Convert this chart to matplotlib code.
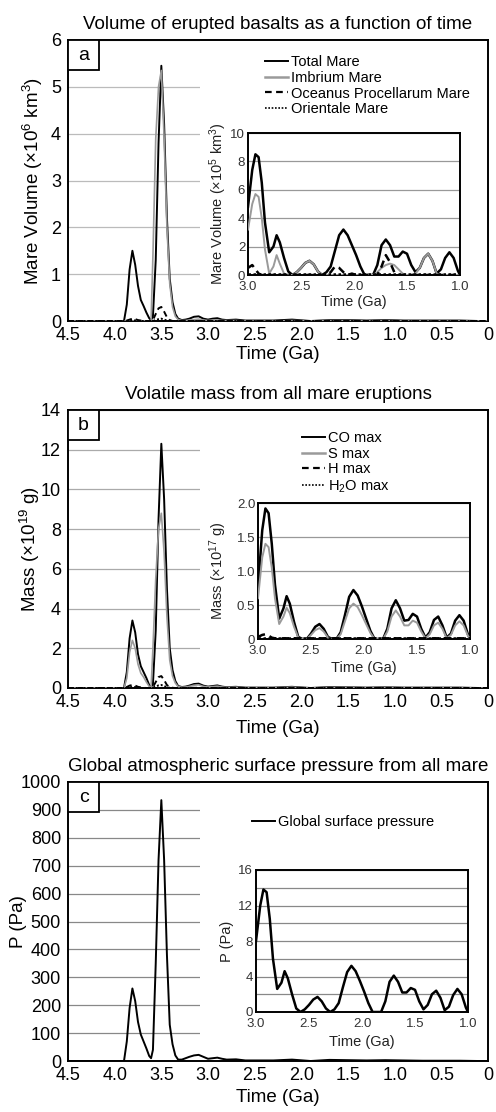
import matplotlib
matplotlib.use("Agg")
import matplotlib.pyplot as plt
from matplotlib.patches import Rectangle
from matplotlib.lines import Line2D
from matplotlib.ticker import MultipleLocator

plt.rcParams["font.family"] = ["Liberation Sans", "DejaVu Sans"]
plt.rcParams["mathtext.fontset"] = "custom"
plt.rcParams["mathtext.rm"] = "Liberation Sans"
plt.rcParams["mathtext.it"] = "Liberation Sans"

# ---- time axes ----
t_main = [4.5, 4.2, 3.9, 3.87, 3.84, 3.81, 3.78, 3.75, 3.72, 3.69, 3.66, 3.63, 3.61, 3.59, 3.56,
          3.53, 3.5, 3.47, 3.44, 3.41, 3.38, 3.35, 3.32, 3.28, 3.24, 3.2, 3.15, 3.1, 3.05, 3.0,
          2.95, 2.9, 2.85, 2.8, 2.7, 2.6, 2.5, 2.3, 2.1, 1.9, 1.7, 1.5, 1.3, 1.1, 0.9, 0.7, 0.5,
          0.3, 0.1, 0.0]
t_inset = [3.0, 2.96, 2.93, 2.9, 2.87, 2.84, 2.8, 2.76, 2.73, 2.7, 2.66, 2.62, 2.58, 2.54, 2.5,
           2.46, 2.42, 2.38, 2.34, 2.3, 2.26, 2.22, 2.18, 2.14, 2.1, 2.06, 2.02, 1.98, 1.94, 1.9,
           1.86, 1.82, 1.78, 1.74, 1.7, 1.66, 1.62, 1.58, 1.54, 1.5, 1.46, 1.42, 1.38, 1.34, 1.3,
           1.26, 1.22, 1.18, 1.14, 1.1, 1.06, 1.02, 1.0]

# ---- panel a: mare volume (x10^6 km3) ----
total_main = [0, 0, 0, 0.35, 1.1, 1.5, 1.2, 0.75, 0.45, 0.32, 0.18, 0.06, 0.02, 0.1, 1.3,
              3.8, 5.45, 4.2, 2.2, 0.9, 0.4, 0.15, 0.05, 0.02, 0.03, 0.05, 0.09, 0.1, 0.05, 0.03,
              0.05, 0.06, 0.03, 0.02, 0.03, 0.01, 0.01, 0.01, 0.03, 0, 0.02, 0.02, 0.01, 0.02, 0.01,
              0.01, 0.01, 0.01, 0, 0]
imbrium_main = [0, 0, 0, 0, 0, 0, 0, 0, 0, 0, 0, 0, 0, 1.4, 3.9,
                5.0, 5.35, 3.9, 2.0, 0.8, 0.3, 0.1, 0.03, 0.01, 0.01, 0.02, 0.03, 0.04, 0.02, 0.01,
                0.02, 0.02, 0.01, 0.01, 0.01, 0, 0, 0, 0.01, 0, 0.01, 0.01, 0, 0.01, 0,
                0, 0, 0, 0, 0]
oceanus_main = [0, 0, 0, 0.01, 0.03, 0.05, 0.04, 0.02, 0.01, 0, 0, 0, 0, 0.02, 0.15,
                0.27, 0.3, 0.2, 0.08, 0.02, 0, 0, 0, 0, 0, 0, 0, 0, 0, 0,
                0, 0, 0, 0, 0, 0, 0, 0, 0, 0, 0, 0, 0, 0, 0, 0, 0, 0, 0, 0]
orientale_main = [0, 0, 0, 0, 0.01, 0.02, 0.01, 0, 0, 0, 0, 0, 0, 0, 0.02,
                  0.04, 0.05, 0.03, 0.01, 0, 0, 0, 0, 0, 0, 0, 0, 0, 0, 0,
                  0, 0, 0, 0, 0, 0, 0, 0, 0, 0, 0, 0, 0, 0, 0, 0, 0, 0, 0, 0]

# inset a (x10^5 km3)
total_inset = [4.8, 7.4, 8.5, 8.3, 6.5, 3.7, 1.6, 2.0, 2.8, 2.3, 1.2, 0.25, 0, 0.2, 0.5,
               0.85, 1.0, 0.75, 0.25, 0, 0.2, 0.6, 1.7, 2.8, 3.2, 2.8, 2.1, 1.4, 0.6, 0,
               0, 0, 0.7, 2.1, 2.5, 2.1, 1.3, 1.3, 1.65, 1.5, 0.7, 0.2, 0.5, 1.2, 1.5,
               1.0, 0.1, 0.4, 1.2, 1.6, 1.2, 0.3, 0]
imbrium_inset = [3.2, 5.0, 5.7, 5.5, 4.0, 1.8, 0.1, 0.6, 1.4, 0.8, 0.1, 0, 0, 0.2, 0.5,
                 0.85, 1.0, 0.75, 0.25, 0, 0, 0, 0, 0, 0, 0, 0, 0, 0, 0,
                 0, 0, 0.2, 0.5, 0.7, 0.8, 0.7, 0.4, 0.1, 0, 0, 0.1, 0.5, 1.2, 1.5,
                 1.0, 0.1, 0, 0, 0, 0, 0, 0]
oceanus_inset = [0.5, 0.7, 0.4, 0.1, 0, 0, 0, 0, 0, 0, 0, 0, 0, 0, 0,
                 0, 0, 0, 0, 0, 0, 0.2, 0.6, 0.5, 0.2, 0, 0.1, 0, 0, 0,
                 0, 0, 0, 0.6, 1.4, 0.9, 0.2, 0, 0, 0, 0, 0, 0, 0, 0,
                 0, 0, 0, 0, 0, 0, 0, 0]
orientale_inset = [0.05] * 53

# ---- panel b: volatile mass (x10^19 g, inset x10^17 g) ----
co_main = [0, 0, 0, 0.8, 2.5, 3.4, 2.8, 1.7, 1.1, 0.8, 0.5, 0.15, 0.05, 0.2, 2.9,
           8.5, 12.3, 9.5, 5.0, 2.0, 0.9, 0.35, 0.1, 0.05, 0.07, 0.12, 0.2, 0.22, 0.12, 0.07,
           0.1, 0.13, 0.07, 0.04, 0.06, 0.02, 0.02, 0.02, 0.06, 0, 0.05, 0.04, 0.02, 0.04, 0.02,
           0.02, 0.02, 0.02, 0, 0]
s_main = [0, 0, 0, 0.5, 1.8, 2.4, 2.0, 1.2, 0.75, 0.55, 0.3, 0.08, 0.02, 2.0, 5.5,
          8.0, 8.8, 6.8, 3.6, 1.4, 0.6, 0.25, 0.07, 0.04, 0.05, 0.08, 0.14, 0.16, 0.08, 0.05,
          0.07, 0.09, 0.05, 0.03, 0.04, 0.01, 0.01, 0.01, 0.04, 0, 0.03, 0.03, 0.01, 0.03, 0.01,
          0.01, 0.01, 0.01, 0, 0]
h_main = [0, 0, 0, 0.05, 0.12, 0.15, 0.12, 0.06, 0.03, 0.01, 0, 0, 0, 0.05, 0.3,
          0.55, 0.6, 0.4, 0.15, 0.05, 0.01, 0, 0, 0, 0, 0, 0.01, 0.01, 0, 0,
          0, 0, 0, 0, 0, 0, 0, 0, 0, 0, 0, 0, 0, 0, 0, 0, 0, 0, 0, 0]
h2o_main = [0, 0, 0, 0.02, 0.04, 0.05, 0.04, 0.02, 0, 0, 0, 0, 0, 0.02, 0.08,
            0.13, 0.15, 0.1, 0.04, 0.01, 0, 0, 0, 0, 0, 0, 0, 0, 0, 0,
            0, 0, 0, 0, 0, 0, 0, 0, 0, 0, 0, 0, 0, 0, 0, 0, 0, 0, 0, 0]

co_inset = [0.75, 1.6, 1.92, 1.85, 1.4, 0.8, 0.3, 0.45, 0.63, 0.52, 0.25, 0.03, 0, 0, 0.08,
            0.18, 0.22, 0.15, 0.03, 0, 0, 0.1, 0.35, 0.62, 0.72, 0.64, 0.48, 0.3, 0.12, 0,
            0, 0, 0.15, 0.45, 0.57, 0.45, 0.27, 0.28, 0.37, 0.33, 0.15, 0.02, 0.1, 0.28, 0.33,
            0.2, 0.02, 0.08, 0.27, 0.35, 0.27, 0.07, 0]
s_inset = [0.6, 1.2, 1.4, 1.35, 1.05, 0.6, 0.22, 0.33, 0.46, 0.38, 0.18, 0.02, 0, 0, 0.06,
           0.13, 0.16, 0.11, 0.02, 0, 0, 0.07, 0.26, 0.45, 0.52, 0.47, 0.35, 0.22, 0.09, 0,
           0, 0, 0.11, 0.33, 0.42, 0.33, 0.2, 0.2, 0.27, 0.24, 0.11, 0.01, 0.07, 0.2, 0.24,
           0.15, 0.01, 0.06, 0.2, 0.26, 0.2, 0.05, 0]
h_inset = [0.03, 0.06, 0.07, 0.05, 0.02] + [0.01] * 48
h2o_inset = [0.01] * 53

# ---- panel c: surface pressure (Pa) ----
p_main = [0, 0, 0, 70, 190, 260, 215, 140, 95, 70, 45, 18, 10, 40, 350,
          720, 935, 720, 380, 130, 60, 20, 5, 5, 10, 15, 20, 22, 15, 8,
          10, 12, 8, 5, 6, 2, 2, 2, 5, 0, 4, 3, 2, 3, 2, 1, 1, 1, 0, 0]
p_inset = [8.0, 12.0, 13.8, 13.5, 10.5, 6.0, 2.6, 3.3, 4.6, 3.8, 2.0, 0.4, 0, 0.3, 0.8,
           1.4, 1.7, 1.2, 0.4, 0, 0.3, 1.0, 2.8, 4.5, 5.2, 4.6, 3.5, 2.3, 1.0, 0,
           0, 0, 1.2, 3.4, 4.1, 3.4, 2.2, 2.2, 2.7, 2.5, 1.2, 0.3, 0.8, 2.0, 2.4,
           1.6, 0.2, 0.6, 1.9, 2.6, 2.0, 0.5, 0]

main_xticks = [4.5, 4.0, 3.5, 3.0, 2.5, 2.0, 1.5, 1.0, 0.5, 0.0]
main_xlabels = ["4.5", "4.0", "3.5", "3.0", "2.5", "2.0", "1.5", "1.0", "0.5", "0"]
inset_xticks = [3.0, 2.5, 2.0, 1.5, 1.0]

W, H = 496, 1112
fig = plt.figure(figsize=(W / 100, H / 100), dpi=100)

GRAY = "#9a9a9a"
MAIN_LW = 1.4
INSET_LW = 1.8


def px_rect(left, top, right, bottom):
    return [left / W, 1 - bottom / H, (right - left) / W, (bottom - top) / H]


def setup_main(ax, ymax, ystep, ylabel, title, letter, ylab_x, xlab_y, grid_color):
    ax.set_xlim(4.5, 0)
    ax.set_ylim(0, ymax)
    ax.set_yticks(list(range(0, ymax + 1, ystep)))
    ax.set_xticks(main_xticks)
    ax.set_xticklabels(main_xlabels)
    ax.tick_params(length=0, labelsize=13, pad=4)
    ax.tick_params(axis="y", pad=5)
    ax.set_axisbelow(True)
    ax.yaxis.grid(True, color=grid_color, lw=0.9)
    for s in ax.spines.values():
        s.set_linewidth(1.4)
    ax.set_ylabel(ylabel, fontsize=13.5, va="center")
    ax.yaxis.set_label_coords(ylab_x, 0.5)
    ax.set_xlabel("Time (Ga)", fontsize=13.5, va="center")
    ax.xaxis.set_label_coords(0.5, xlab_y)
    ax.set_title(title, fontsize=13.5, pad=8)
    # white area behind legend and inset hides the grid
    ax.add_patch(Rectangle((0.315, 0.045), 0.685, 0.955, transform=ax.transAxes,
                           facecolor="white", edgecolor="none", zorder=1))
    bh = 30 / (ax.get_position().height * H)
    ax.add_patch(Rectangle((0, 1 - bh), 31 / 420, bh, transform=ax.transAxes,
                           facecolor="white", edgecolor="black", lw=1.3, zorder=4))
    ax.text(15.5 / 420, 1 - bh / 2, letter, transform=ax.transAxes, fontsize=14,
            ha="center", va="center", zorder=5)


def setup_inset(ax, ymax, yticks, yticklabels, ylabel, ylab_x, xlab_y):
    ax.set_xlim(3.0, 1.0)
    ax.set_ylim(0, ymax)
    ax.set_xticks(inset_xticks)
    ax.set_xticklabels(["3.0", "2.5", "2.0", "1.5", "1.0"])
    ax.set_yticks(yticks)
    ax.set_yticklabels(yticklabels)
    ax.tick_params(length=0, labelsize=9.5, pad=2, labelcolor="#333333")
    ax.tick_params(axis="x", pad=4)
    ax.set_axisbelow(True)
    for s in ax.spines.values():
        s.set_linewidth(1.4)
    ax.set_ylabel(ylabel, fontsize=10.5, color="#222222", va="center")
    ax.yaxis.set_label_coords(ylab_x, 0.5)
    ax.set_xlabel("Time (Ga)", fontsize=10.5, color="#222222", va="center")
    ax.xaxis.set_label_coords(0.5, xlab_y)


leg_kw = dict(frameon=False, fontsize=10.5, handlelength=1.55, handletextpad=0.2,
              labelspacing=0.12, borderpad=0, borderaxespad=0, loc="upper left",
              bbox_transform=fig.transFigure)

# ================= panel a =================
ax_a = fig.add_axes(px_rect(68, 40, 488, 321))
ax_a.plot(t_main, total_main, color="black", lw=MAIN_LW, zorder=3)
ax_a.plot(t_main, imbrium_main, color=GRAY, lw=1.2, zorder=3)
ax_a.plot(t_main, oceanus_main, color="black", lw=MAIN_LW, ls=(0, (3, 2)), zorder=3)
ax_a.plot(t_main, orientale_main, color="black", lw=MAIN_LW, ls=(0, (1, 1)), zorder=3)
setup_main(ax_a, 6, 1, "Mare Volume (×10$^{6}$ km$^{3}$)",
           "Volume of erupted basalts as a function of time", "a", -0.083, -0.12, "#bbbbbb")
leg_handles = [Line2D([], [], color="black", lw=1.4),
               Line2D([], [], color=GRAY, lw=1.8),
               Line2D([], [], color="black", lw=1.6, ls=(0, (3, 2))),
               Line2D([], [], color="black", lw=1.2, ls=(0, (1, 1)))]
ax_a.legend(leg_handles, ["Total Mare", "Imbrium Mare", "Oceanus Procellarum Mare", "Orientale Mare"],
            bbox_to_anchor=(265 / W, 1 - 55 / H), **leg_kw)

in_a = fig.add_axes(px_rect(248, 133, 460, 275))
in_a.plot(t_inset, total_inset, color="black", lw=INSET_LW, zorder=3)
in_a.plot(t_inset, imbrium_inset, color=GRAY, lw=1.4, zorder=3)
in_a.plot(t_inset, oceanus_inset, color="black", lw=INSET_LW, ls=(0, (3, 2)), zorder=3)
in_a.plot(t_inset, orientale_inset, color="black", lw=INSET_LW, ls=(0, (1, 1)), zorder=3)
setup_inset(in_a, 10, [0, 2, 4, 6, 8, 10], ["0", "2", "4", "6", "8", "10"],
            "Mare Volume (×10$^{5}$ km$^{3}$)", -0.142, -0.19)
in_a.yaxis.grid(True, color="#999999", lw=0.9)

# ================= panel b =================
ax_b = fig.add_axes(px_rect(68, 410, 488, 688))
ax_b.plot(t_main, co_main, color="black", lw=MAIN_LW, zorder=3)
ax_b.plot(t_main, s_main, color=GRAY, lw=1.2, zorder=3)
ax_b.plot(t_main, h_main, color="black", lw=MAIN_LW, ls=(0, (3, 2)), zorder=3)
ax_b.plot(t_main, h2o_main, color="black", lw=MAIN_LW, ls=(0, (1, 1)), zorder=3)
setup_main(ax_b, 14, 2, "Mass (×10$^{19}$ g)",
           "Volatile mass from all mare eruptions", "b", -0.09, -0.144, "#aaaaaa")
ax_b.legend(leg_handles, ["CO max", "S max", "H max", "H$_2$O max"],
            bbox_to_anchor=(302 / W, 1 - 431 / H), **leg_kw)

in_b = fig.add_axes(px_rect(258, 503, 470, 639))
in_b.plot(t_inset, co_inset, color="black", lw=INSET_LW, zorder=3)
in_b.plot(t_inset, s_inset, color=GRAY, lw=1.4, zorder=3)
in_b.plot(t_inset, h_inset, color="black", lw=INSET_LW, ls=(0, (3, 2)), zorder=3)
in_b.plot(t_inset, h2o_inset, color="black", lw=INSET_LW, ls=(0, (1, 1)), zorder=3)
setup_inset(in_b, 2.0, [0, 0.5, 1.0, 1.5, 2.0], ["0", "0.5", "1.0", "1.5", "2.0"],
            "Mass (×10$^{17}$ g)", -0.19, -0.21)
in_b.yaxis.grid(True, color="#999999", lw=0.9)

# ================= panel c =================
ax_c = fig.add_axes(px_rect(68, 782, 488, 1061))
ax_c.plot(t_main, p_main, color="black", lw=MAIN_LW, zorder=3)
setup_main(ax_c, 1000, 100, "P (Pa)",
           "Global atmospheric surface pressure from all mare", "c", -0.119, -0.13, "#888888")
ax_c.legend([Line2D([], [], color="black", lw=1.4)], ["Global surface pressure"],
            bbox_to_anchor=(252 / W, 1 - 815 / H), **leg_kw)

in_c = fig.add_axes(px_rect(256, 870, 468, 1012))
in_c.plot(t_inset, p_inset, color="black", lw=INSET_LW, zorder=3)
setup_inset(in_c, 16, [0, 4, 8, 12, 16], ["0", "4", "8", "12", "16"], "P (Pa)", -0.137, -0.21)
in_c.yaxis.set_minor_locator(MultipleLocator(2))
in_c.tick_params(which="minor", length=0)
in_c.yaxis.grid(True, which="both", color="#888888", lw=0.9)

fig.savefig("out.png", dpi=100, facecolor="white")
